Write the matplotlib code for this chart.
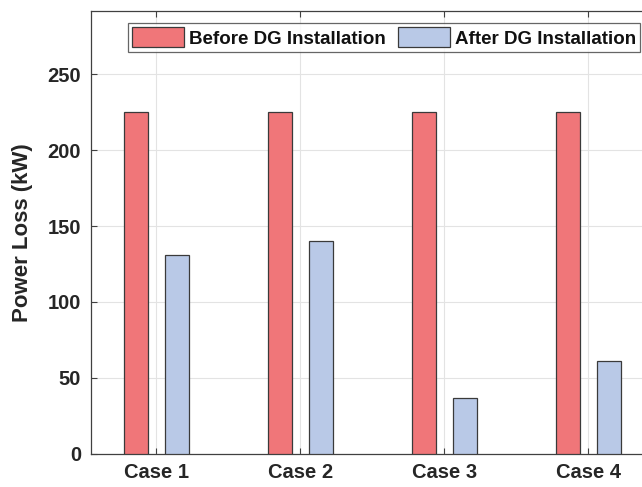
import matplotlib
matplotlib.use("Agg")
import matplotlib.pyplot as plt
import numpy as np

cases = ["Case 1", "Case 2", "Case 3", "Case 4"]
before_dg = [225, 225, 225, 225]
after_dg = [131, 140, 37, 61]
series_names = ["Before DG Installation", "After DG Installation"]
y_ticks = [0, 50, 100, 150, 200, 250]

plt.rcParams["font.family"] = ["Liberation Sans", "DejaVu Sans"]
plt.rcParams["font.weight"] = "bold"

fig = plt.figure(figsize=(6.42, 4.87), dpi=100)
W, H = 642, 487
left, right, top, bottom = 90.7, 660.3, 10.7, 453.7
ax = fig.add_axes([left / W, 1 - bottom / H, (right - left) / W, (bottom - top) / H])

x = np.arange(1, len(cases) + 1)
bw = 0.167
ax.bar(x - 0.144, before_dg, bw, color="#f07679", edgecolor="#3a3a3a", linewidth=0.9,
       label=series_names[0], zorder=3)
ax.bar(x + 0.142, after_dg, bw, color="#b9c9e7", edgecolor="#3a3a3a", linewidth=0.9,
       label=series_names[1], zorder=3)

ax.set_xlim(0.544, 4.5)
ax.set_ylim(0, 292)
ax.set_xticks(x)
ax.set_xticklabels(cases)
ax.set_yticks(y_ticks)
ax.tick_params(direction="in", length=4, width=0.8, color="#404040",
               labelsize=14.5, top=True, right=True, pad=7)
for lab in ax.get_xticklabels() + ax.get_yticklabels():
    lab.set_fontweight("bold")
    lab.set_color("#262626")
ax.grid(True, color="#e3e3e3", linewidth=0.8, zorder=0)
ax.set_axisbelow(True)
for s in ax.spines.values():
    s.set_color("#404040")
    s.set_linewidth(0.9)

ax.set_ylabel("Power Loss (kW)", fontsize=16, fontweight="bold", color="#262626")
ax.yaxis.set_label_coords((33 - left) / (right - left), 0.5)

leg = ax.legend(loc="upper left", bbox_to_anchor=((127.7 - left) / (right - left), 1 - (23.3 - top) / (bottom - top)),
                ncol=2, fontsize=13.5, frameon=True, fancybox=False, edgecolor="#404040",
                handlelength=2.8, handleheight=1.25, handletextpad=0.25, columnspacing=0.65,
                borderpad=0.22, borderaxespad=0)
leg.get_frame().set_linewidth(0.9)
for t in leg.get_texts():
    t.set_fontweight("bold")
    t.set_color("#111111")

fig.savefig("out.png", dpi=100)
